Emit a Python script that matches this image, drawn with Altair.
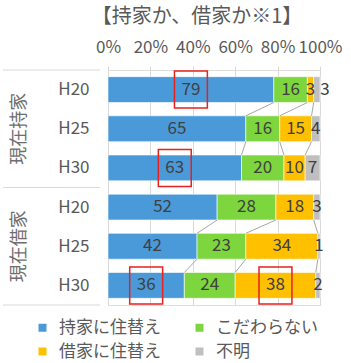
import altair as alt
import pandas as pd

# ---- data ----
groups = ["現在持家", "現在借家"]
years = ["H20", "H25", "H30"]
cats = ["持家に住替え", "こだわらない", "借家に住替え", "不明"]
colors = ["#4A9ADA", "#7DD63E", "#FFC000", "#BFBFBF"]
# legend shows entries in this order (filled column by column)
legend_order = ["持家に住替え", "借家に住替え", "こだわらない", "不明"]

owner_own = [79, 65, 63]
owner_any = [16, 16, 20]
owner_rent = [3, 15, 10]
owner_unk = [3, 4, 7]

renter_own = [52, 42, 36]
renter_any = [28, 23, 24]
renter_rent = [18, 34, 38]
renter_unk = [3, 1, 2]

x_ticks = [0, 20, 40, 60, 80, 100]
title_text = "【持家か、借家か※1】"
# highlighted (group, year, category) labels boxed in red
highlights = [("現在持家", "H20", "持家に住替え"), ("現在持家", "H30", "持家に住替え"),
              ("現在借家", "H30", "持家に住替え"), ("現在借家", "H30", "借家に住替え")]

series = {
    "現在持家": [owner_own, owner_any, owner_rent, owner_unk],
    "現在借家": [renter_own, renter_any, renter_rent, renter_unk],
}

HALF = 0.33  # half bar thickness in row units

rows = []
for gi, g in enumerate(groups):
    for yi, yr in enumerate(years):
        vals = [series[g][ci][yi] for ci in range(len(cats))]
        tot = sum(vals)
        cum = 0
        for ci, c in enumerate(cats):
            s = cum / tot * 100
            cum += vals[ci]
            e = cum / tot * 100
            rows.append(dict(group=g, year=yr, row=gi * 3 + yi, cat=c, order=ci,
                             value=vals[ci], start=s, end=e, mid=(s + e) / 2,
                             top=gi * 3 + yi - HALF, bot=gi * 3 + yi + HALF,
                             hl=(g, yr, c) in highlights))
df = pd.DataFrame(rows)

# connector (series) lines between consecutive years in each group
conn = []
for gi, g in enumerate(groups):
    for yi in range(len(years) - 1):
        r1 = gi * 3 + yi
        for ci in range(len(cats) - 1):
            a = df[(df.row == r1) & (df.order == ci)].iloc[0]
            b = df[(df.row == r1 + 1) & (df.order == ci)].iloc[0]
            conn.append(dict(x1=a.end, y1=r1 + HALF, x2=b.end, y2=r1 + 1 - HALF))
conn_df = pd.DataFrame(conn)

sep_df = pd.DataFrame({"y": [-0.5, 2.5, 5.5]})
grp_df = pd.DataFrame({"group": groups, "row": [1, 4]})

FONT = "Noto Sans CJK JP"
TXT = "#595959"
color_map = dict(zip(cats, colors))

xscale = alt.Scale(domain=[0, 100], nice=False, zero=False)
yscale = alt.Scale(domain=[-0.5, 5.5], reverse=True, nice=False, zero=False)

bars = alt.Chart(df).mark_bar(stroke="white", strokeWidth=0.6).encode(
    x=alt.X("start:Q", scale=xscale, axis=alt.Axis(
        orient="top", values=x_ticks, labelExpr="datum.value + '%'", title=None,
        grid=True, gridColor="#D9D9D9", domain=False, tickColor="#D9D9D9", tickSize=4,
        labelFontSize=17, labelColor=TXT, labelFont=FONT, labelPadding=10,
        labelOverlap=False, labelFlush=False)),
    x2="end:Q",
    y=alt.Y("top:Q", scale=yscale, axis=alt.Axis(
        values=[0, 1, 2, 3, 4, 5], labelExpr="['H20','H25','H30'][datum.value % 3]",
        title=None, grid=False, domain=False, ticks=False, labelFontSize=17,
        labelColor=TXT, labelFont=FONT, labelPadding=19)),
    y2="bot:Q",
    color=alt.Color("cat:N", scale=alt.Scale(domain=legend_order,
                                             range=[color_map[c] for c in legend_order]),
                    legend=alt.Legend(title=None, orient="none", legendX=-74, legendY=249,
                                      columns=2, columnPadding=30, rowPadding=6,
                                      symbolType="square", symbolSize=64,
                                      symbolStrokeWidth=0, labelFontSize=17,
                                      labelColor=TXT, labelFont=FONT, labelOffset=8)),
    order=alt.Order("order:Q"),
)

lines = alt.Chart(conn_df).mark_rule(color="#A6A6A6", strokeWidth=1).encode(
    x="x1:Q", x2="x2:Q", y="y1:Q", y2="y2:Q")

labels = alt.Chart(df).transform_filter(
    "!(datum.group == '現在持家' && datum.year == 'H20' && datum.cat == '不明')"
).mark_text(fontSize=17, color="#404040", font=FONT, baseline="middle").encode(
    x="mid:Q", y="row:Q", text="value:Q")

label_out = alt.Chart(df).transform_filter(
    "datum.group == '現在持家' && datum.year == 'H20' && datum.cat == '不明'"
).mark_text(fontSize=17, color="#404040", font=FONT, baseline="middle", dx=8).encode(
    x="mid:Q", y="row:Q", text="value:Q")

boxes = alt.Chart(df).transform_filter("datum.hl").mark_point(
    shape="M-0.89,-1L0.89,-1L0.89,1L-0.89,1Z", filled=False, stroke="#E8211F",
    strokeWidth=1.5, size=1369, opacity=1).encode(x="mid:Q", y="row:Q")

seps = alt.Chart(sep_df).mark_rule(color="#D9D9D9", strokeWidth=1.2).encode(
    y="y:Q", x=alt.value(-105), x2=alt.value(-8))

grp = alt.Chart(grp_df).mark_text(angle=270, fontSize=18, color="#6E6E6E", font=FONT,
                                  baseline="middle", align="center").encode(
    y="row:Q", x=alt.value(-88), text="group:N")

title = alt.Chart(pd.DataFrame({"t": [title_text]})).mark_text(
    fontSize=20, color=TXT, font=FONT, baseline="middle", align="center").encode(
    x=alt.value(89), y=alt.value(-53), text="t:N")

chart = alt.layer(bars, lines, labels, label_out, boxes, seps, grp, title).properties(
    width=212, height=235, autosize=alt.AutoSizeParams(type="none"),
    padding={"left": 108, "top": 70, "right": 31, "bottom": 58},
).configure_view(stroke=None).configure(background="white")

chart.save("out.html", embed_options={"renderer": "svg", "actions": False})
